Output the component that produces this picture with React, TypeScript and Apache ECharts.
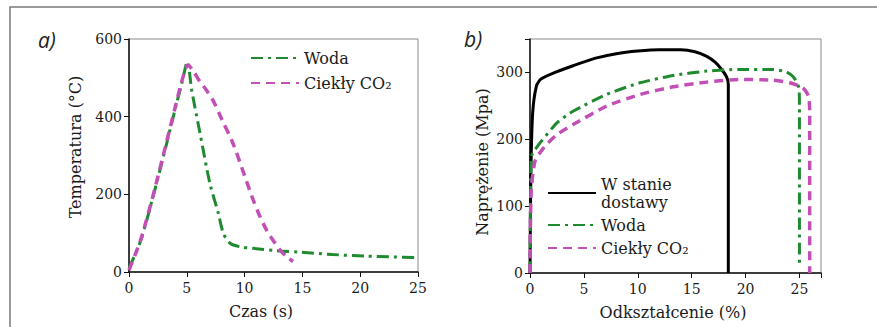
import React, { useEffect, useRef } from "react";
import * as echarts from "echarts";

// ---- Panel a) temperature vs time ----
const timeTicks = [0, 5, 10, 15, 20, 25];
const tempTicks = [0, 200, 400, 600];
const tempWater: [number, number][] = [
  [0, 10], [1, 80], [2, 185], [3, 300], [4, 420], [4.6, 490], [5.05, 541],
  [5.42, 469], [6.14, 358], [7.0, 228], [7.73, 151], [8.16, 100], [8.74, 74],
  [9.6, 65], [10.75, 61], [12.8, 55], [14.8, 51], [17.6, 45], [20.5, 41], [25, 37],
];
const tempCO2: [number, number][] = [
  [0, 5], [1, 82], [2, 188], [3, 305], [4, 425], [4.7, 505], [5.1, 533],
  [5.5, 520], [6.1, 492], [6.7, 468], [7.3, 440], [8, 395], [9, 331],
  [9.8, 265], [10.75, 185], [11.3, 145], [11.9, 108], [12.5, 80], [13.06, 57],
  [13.6, 40], [14.2, 27],
];

// ---- Panel b) stress vs strain ----
const strainTicks = [0, 5, 10, 15, 20, 25];
const stressTicks = [0, 100, 200, 300];
const stressDelivered: [number, number][] = [
  [0, 0], [0.08, 150], [0.25, 240], [0.6, 280], [1, 290], [2, 298], [4, 310],
  [6, 321], [8, 328], [10, 332], [12, 334], [14, 334], [15.3, 331], [16.4, 324],
  [17.2, 315], [17.8, 304], [18.25, 293], [18.4, 282], [18.4, 0],
];
const stressWater: [number, number][] = [
  [0, 0], [0.05, 120], [0.15, 175], [0.93, 194.5], [2.5, 224.5], [4, 242],
  [7.1, 267], [10.2, 284.5], [13.3, 295.5], [16.4, 302], [19.4, 304.5],
  [22.5, 304.5], [23.8, 300.5], [24.5, 292], [24.95, 277], [25, 250], [25, 10],
];
const stressCO2: [number, number][] = [
  [0, 0], [0.1, 120], [0.46, 167], [1.3, 188], [2.5, 207], [4, 222], [7.1, 249.5],
  [10.2, 267], [13.3, 278.5], [16.4, 285.5], [19.4, 289.5], [22.5, 288.5],
  [24.1, 284.5], [25.3, 277], [25.85, 264.5], [25.95, 240], [25.95, 0],
];

const legendA = ["Woda", "Ciekły CO₂"];
const legendB = ["W stanie\ndostawy", "Woda", "Ciekły CO₂"];

const GREEN = "#1f8a30";
const MAGENTA = "#c24fb6";
const TICK_FONT = "DejaVu Serif";
const TITLE_FONT = "DejaVu Serif";

function axisCommon(ticks: number[]) {
  return {
    min: ticks[0],
    axisLine: { show: true, onZero: false, lineStyle: { color: "#111", width: 1.5 } },
    axisTick: { show: true, length: 5, lineStyle: { color: "#111", width: 1 } },
    axisLabel: { show: false },
    splitLine: { show: false },
  };
}

function legendItem(name: string, left: number, top: number, lineHeight: number) {
  return {
    orient: "vertical",
    left,
    top,
    padding: 0,
    itemWidth: 48,
    itemHeight: 14,
    itemGap: 0,
    data: [name],
    itemStyle: { opacity: 0 },
    textStyle: { fontFamily: TITLE_FONT, fontSize: 16, color: "#1a1a1a", lineHeight },
  };
}

export default function App() {
  const ref = useRef<HTMLDivElement>(null);
  useEffect(() => {
    if (!ref.current) return;
    const chart = echarts.init(ref.current, undefined, { renderer: "svg" });
    const titleText = (text: string, x: number, y: number, vertical: boolean) => ({
      type: "text",
      x,
      y,
      rotation: vertical ? Math.PI / 2 : 0,
      style: {
        text,
        font: `16px "${TITLE_FONT}"`,
        fill: "#1a1a1a",
        align: "center",
        verticalAlign: "middle",
      },
    });
    const baseGraphic: any[] = [
      {
        type: "rect",
        silent: true,
        shape: { x: 10, y: 7, width: 900, height: 340 },
        style: { fill: "none", stroke: "#7a7a7a", lineWidth: 1.5 },
      },
      {
        type: "text",
        x: 38,
        y: 40,
        style: { text: "a)", font: 'italic 21px "Open Sans"', fill: "#222", verticalAlign: "middle" },
      },
      {
        type: "text",
        x: 464,
        y: 39,
        style: { text: "b)", font: 'italic 21px "Open Sans"', fill: "#222", verticalAlign: "middle" },
      },
      titleText("Temperatura (°C)", 75, 147, true),
      titleText("Czas (s)", 261, 311, false),
      titleText("Naprężenie (Mpa)", 482, 162, true),
      titleText("Odkształcenie (%)", 673, 312, false),
    ];
    const option: any = {
      animation: false,
      backgroundColor: "#ffffff",
      graphic: baseGraphic,
      grid: [
        { left: 129, top: 39, width: 289, height: 233, show: true, borderColor: "#8a8a8a", borderWidth: 1, backgroundColor: "transparent" },
        { left: 530, top: 39, width: 291, height: 234, show: true, borderColor: "#8a8a8a", borderWidth: 1, backgroundColor: "transparent" },
      ],
      xAxis: [
        { type: "value", gridIndex: 0, max: 25, interval: 5, ...axisCommon(timeTicks) },
        { type: "value", gridIndex: 1, max: 27, interval: 5, ...axisCommon(strainTicks) },
      ],
      yAxis: [
        { type: "value", gridIndex: 0, max: 600, interval: 200, ...axisCommon(tempTicks) },
        { type: "value", gridIndex: 1, max: 350, interval: 100, ...axisCommon(stressTicks) },
      ],
      legend: [
        legendItem(legendA[0], 250, 49.5, 17),
        legendItem(legendA[1], 250, 74.5, 17),
        legendItem(legendB[0], 547, 175, 18),
        legendItem(legendB[1], 547, 216.5, 17),
        legendItem(legendB[2], 547, 239.5, 17),
      ],
      series: [
        {
          type: "line",
          name: "Woda",
          xAxisIndex: 0,
          yAxisIndex: 0,
          data: tempWater,
          showSymbol: false,
          smooth: 0.3,
          lineStyle: { color: GREEN, width: 3, type: [12, 5, 3, 5] },
          itemStyle: { color: GREEN },
        },
        {
          type: "line",
          name: "Ciekły CO₂",
          xAxisIndex: 0,
          yAxisIndex: 0,
          data: tempCO2,
          showSymbol: false,
          smooth: 0.3,
          lineStyle: { color: MAGENTA, width: 3.5, type: [9, 6] },
          itemStyle: { color: MAGENTA },
        },
        {
          type: "line",
          name: "W stanie\ndostawy",
          xAxisIndex: 1,
          yAxisIndex: 1,
          data: stressDelivered,
          showSymbol: false,
          smooth: 0.2,
          lineStyle: { color: "#000", width: 3 },
          itemStyle: { color: "#000" },
        },
        {
          type: "line",
          name: "Woda",
          xAxisIndex: 1,
          yAxisIndex: 1,
          data: stressWater,
          showSymbol: false,
          smooth: 0.2,
          lineStyle: { color: GREEN, width: 3, type: [12, 5, 3, 5] },
          itemStyle: { color: GREEN },
        },
        {
          type: "line",
          name: "Ciekły CO₂",
          xAxisIndex: 1,
          yAxisIndex: 1,
          data: stressCO2,
          showSymbol: false,
          smooth: 0.2,
          lineStyle: { color: MAGENTA, width: 3.5, type: [9, 6] },
          itemStyle: { color: MAGENTA },
        },
      ],
    };
    chart.setOption(option);

    // Tick labels placed through the library's own scales.
    const labelStyle = { font: `14px "${TICK_FONT}"`, fill: "#1a1a1a" };
    const tickLabels: any[] = [];
    const addX = (grid: number, ticks: number[]) => {
      ticks.forEach((v) => {
        const p = chart.convertToPixel({ gridIndex: grid } as any, [v, 0]) as number[];
        if (!p) return;
        tickLabels.push({
          type: "text",
          x: p[0],
          y: p[1] + 16,
          style: { ...labelStyle, text: String(v), align: "center", verticalAlign: "middle" },
        });
      });
    };
    const addY = (grid: number, ticks: number[]) => {
      ticks.forEach((v) => {
        const p = chart.convertToPixel({ gridIndex: grid } as any, [0, v]) as number[];
        if (!p) return;
        tickLabels.push({
          type: "text",
          x: p[0] - 7,
          y: p[1],
          style: { ...labelStyle, text: String(v), align: "right", verticalAlign: "middle" },
        });
      });
    };
    addX(0, timeTicks);
    addY(0, tempTicks);
    addX(1, strainTicks);
    addY(1, stressTicks);
    chart.setOption({ graphic: [...baseGraphic, ...tickLabels] });

    return () => chart.dispose();
  }, []);
  return (
    <div
      ref={ref}
      style={{ position: "absolute", left: 0, top: 0, width: 877, height: 327 }}
    />
  );
}
